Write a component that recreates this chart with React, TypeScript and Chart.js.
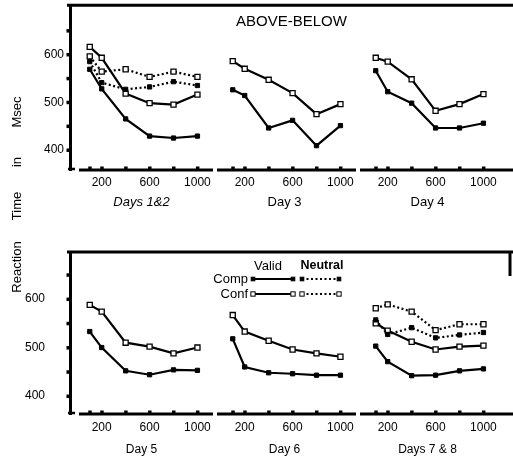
import React, { useEffect, useRef } from 'react';
import { Chart, registerables } from 'chart.js';

Chart.register(...registerables);

// ---------- data ----------
const delays = [100, 200, 400, 600, 800, 1000]; // ms
const xTickLabels = [200, 600, 1000];
const yTickValues = [400, 450, 500, 550, 600, 650];

// Top panel (ABOVE-BELOW)
const day12ValidComp = [569, 528, 465, 429, 425, 429];
const day12ValidConf = [616, 593, 518, 498, 495, 516];
const day12NeutralComp = [585, 541, 527, 532, 543, 535];
const day12NeutralConf = [596, 564, 569, 553, 564, 553];
const day3ValidComp = [526, 514, 446, 462, 409, 451];
const day3ValidConf = [586, 570, 547, 519, 475, 496];
const day4ValidComp = [566, 522, 498, 446, 446, 456];
const day4ValidConf = [593, 585, 548, 482, 496, 517];

// Bottom panel
const day5ValidComp = [533, 500, 452, 444, 454, 453];
const day5ValidConf = [588, 574, 510, 502, 488, 500];
const day6ValidComp = [518, 460, 448, 446, 443, 443];
const day6ValidConf = [567, 533, 514, 496, 488, 481];
const day78ValidComp = [503, 471, 442, 443, 452, 456];
const day78ValidConf = [550, 535, 512, 496, 502, 504];
const day78NeutralComp = [557, 527, 541, 520, 526, 531];
const day78NeutralConf = [581, 589, 574, 536, 548, 548];

const topTitles = ['Days 1&2', 'Day 3', 'Day 4'];
const bottomTitles = ['Day 5', 'Day 6', 'Days 7 & 8'];
const panelHeading = 'ABOVE-BELOW';
const legendCols = ['Valid', 'Neutral'];
const legendRows = ['Comp', 'Conf'];
const axisWords = ['Msec', 'in', 'Time', 'Reaction'];

// ---------- layout / style ----------
const FONT = '"Liberation Sans", Arial, Helvetica, sans-serif';
const axisWordCenters = [112, 162, 206, 267];

type Kind = { filled: boolean; dotted: boolean };
const VC: Kind = { filled: true, dotted: false };
const VF: Kind = { filled: false, dotted: false };
const NC: Kind = { filled: true, dotted: true };
const NF: Kind = { filled: false, dotted: true };

function makeDs(vals: number[], axis: string, k: Kind) {
  return {
    data: delays.map((d, i) => ({ x: d, y: vals[i] })),
    xAxisID: axis,
    yAxisID: 'y',
    borderColor: '#000',
    borderWidth: 2.2,
    borderDash: k.dotted ? [2, 2.5] : [],
    pointStyle: 'rect',
    pointRadius: k.filled ? 3 : 3.6,
    pointBackgroundColor: k.filled ? '#000' : '#fff',
    pointBorderColor: '#000',
    pointBorderWidth: k.filled ? 1 : 1.3,
    tension: 0,
    fill: false,
  };
}

function xScale(title: string, italic: boolean, size: number, height: number, tickPad: number, titlePad: number) {
  return {
    type: 'linear',
    position: 'bottom',
    stack: 'days',
    stackWeight: 1,
    min: -65,
    max: 1130,
    afterBuildTicks: (s: any) => {
      s.ticks = delays.map((v) => ({ value: v }));
    },
    afterFit: (s: any) => {
      s.height = height;
      s.paddingLeft = 0;
      s.paddingRight = 0;
    },
    grid: { display: false, drawTicks: false },
    border: { display: false },
    ticks: {
      color: '#000',
      font: { family: FONT, size: 12 },
      padding: tickPad,
      maxRotation: 0,
      autoSkip: false,
      callback: (v: any) => (xTickLabels.includes(v) ? String(v) : null),
    },
    title: {
      display: true,
      text: title,
      color: '#000',
      font: { family: FONT, size, style: italic ? 'italic' : 'normal' },
      padding: { top: 0, bottom: titlePad },
    },
  };
}

function yScale(min: number, max: number, pad: number) {
  return {
    type: 'linear',
    position: 'left',
    min,
    max,
    afterBuildTicks: (s: any) => {
      s.ticks = yTickValues.map((v) => ({ value: v }));
    },
    afterFit: (s: any) => {
      s.width = 70;
      s.paddingTop = 0;
      s.paddingBottom = 0;
    },
    grid: { display: false, drawTicks: false },
    border: { display: true, width: 3, color: '#000' },
    ticks: {
      color: '#000',
      font: { family: FONT, size: 12 },
      padding: pad,
      callback: (v: any) => (v % 100 === 0 ? String(v) : null),
    },
  };
}

function framePlugin(opts: { rightStub?: boolean; heading?: string; legend?: boolean }) {
  return {
    id: 'frame',
    afterDraw(chart: any) {
      const ctx = chart.ctx;
      const ca = chart.chartArea;
      ctx.save();
      ctx.fillStyle = '#000';
      ctx.strokeStyle = '#000';
      // top border
      ctx.lineWidth = 3;
      ctx.beginPath();
      ctx.moveTo(ca.left - 3, ca.top);
      ctx.lineTo(chart.width, ca.top);
      ctx.stroke();
      if (opts.rightStub) {
        ctx.beginPath();
        ctx.moveTo(chart.width - 3, ca.top);
        ctx.lineTo(chart.width - 3, ca.top + 24);
        ctx.stroke();
      }
      // foot of y axis
      ctx.lineWidth = 2.5;
      ctx.beginPath();
      ctx.moveTo(ca.left - 2, ca.bottom - 1);
      ctx.lineTo(ca.left + 5, ca.bottom - 1);
      ctx.stroke();
      // broken x axis segments + tick dots
      const xs = ['x1', 'x2', 'x3'].map((id) => chart.scales[id]);
      xs.forEach((s: any, i: number) => {
        const from = s.left + (i === 0 ? 9 : 4);
        const to = i === 2 ? chart.width : s.right;
        ctx.lineWidth = 3;
        ctx.beginPath();
        ctx.moveTo(from, ca.bottom);
        ctx.lineTo(to, ca.bottom);
        ctx.stroke();
        delays.forEach((v) => {
          const px = s.getPixelForValue(v);
          ctx.fillRect(px - 1.5, ca.bottom - 3.5, 3.5, 4);
        });
      });
      const y = chart.scales.y;
      yTickValues.forEach((v) => {
        const py = y.getPixelForValue(v);
        ctx.fillRect(ca.left - 3.5, py - 1.5, 4, 3.5);
      });
      // heading
      if (opts.heading) {
        ctx.font = `15px ${FONT}`;
        ctx.textAlign = 'center';
        ctx.textBaseline = 'middle';
        const cx = chart.scales.x2.getPixelForValue(590);
        ctx.fillText(opts.heading, cx, ca.top + 17);
      }
      // legend
      if (opts.legend) {
        const dsets = chart.data.datasets;
        const find = (k: Kind) =>
          dsets.find((d: any) => d.xAxisID === 'x3' && (d.borderDash.length > 0) === k.dotted && (d.pointBackgroundColor === '#000') === k.filled);
        const headY = ca.top + 14;
        const rowY = [ca.top + 27, ca.top + 42];
        const colX = [[253, 293], [302, 339]];
        ctx.textBaseline = 'middle';
        ctx.textAlign = 'center';
        ctx.font = `13px ${FONT}`;
        ctx.fillText(legendCols[0], 268, headY);
        ctx.font = `bold 12.5px ${FONT}`;
        ctx.fillText(legendCols[1], 322, headY);
        ctx.font = `13px ${FONT}`;
        ctx.textAlign = 'right';
        legendRows.forEach((r, ri) => ctx.fillText(r, 248, rowY[ri]));
        const kinds = [[VC, NC], [VF, NF]];
        kinds.forEach((row, ri) => {
          row.forEach((k, ci) => {
            const d: any = find(k);
            if (!d) return;
            const [a, b] = colX[ci];
            const yy = rowY[ri];
            ctx.lineWidth = d.borderWidth * 0.8;
            ctx.setLineDash(d.borderDash);
            ctx.beginPath();
            ctx.moveTo(a, yy);
            ctx.lineTo(b, yy);
            ctx.stroke();
            ctx.setLineDash([]);
            const side = d.pointRadius * 1.2;
            [a, b].forEach((px) => {
              ctx.fillStyle = d.pointBackgroundColor;
              ctx.fillRect(px - side / 2, yy - side / 2, side, side);
              ctx.lineWidth = 1;
              ctx.strokeStyle = '#000';
              ctx.strokeRect(px - side / 2, yy - side / 2, side, side);
            });
            ctx.fillStyle = '#000';
          });
        });
      }
      ctx.restore();
    },
  };
}

function buildConfig(panel: 'top' | 'bottom') {
  const isTop = panel === 'top';
  const datasets = isTop
    ? [
        makeDs(day12ValidComp, 'x1', VC),
        makeDs(day12NeutralComp, 'x1', NC),
        makeDs(day12NeutralConf, 'x1', NF),
        makeDs(day12ValidConf, 'x1', VF),
        makeDs(day3ValidComp, 'x2', VC),
        makeDs(day3ValidConf, 'x2', VF),
        makeDs(day4ValidComp, 'x3', VC),
        makeDs(day4ValidConf, 'x3', VF),
      ]
    : [
        makeDs(day5ValidComp, 'x1', VC),
        makeDs(day5ValidConf, 'x1', VF),
        makeDs(day6ValidComp, 'x2', VC),
        makeDs(day6ValidConf, 'x2', VF),
        makeDs(day78ValidComp, 'x3', VC),
        makeDs(day78NeutralComp, 'x3', NC),
        makeDs(day78NeutralConf, 'x3', NF),
        makeDs(day78ValidConf, 'x3', VF),
      ];
  const titles = isTop ? topTitles : bottomTitles;
  const xh = isTop ? 45 : 49;
  const tickPad = isTop ? 5 : 6;
  const titlePad = isTop ? 5 : 6;
  const size = isTop ? 13 : 12;
  return {
    type: 'line',
    data: { datasets },
    plugins: [framePlugin(isTop ? { heading: panelHeading } : { legend: true, rightStub: true })],
    options: {
      responsive: false,
      maintainAspectRatio: false,
      animation: false,
      devicePixelRatio: 1,
      layout: { padding: { top: isTop ? 5 : 22, right: 14, left: 0, bottom: 0 } },
      plugins: { legend: { display: false }, tooltip: { enabled: false }, title: { display: false } },
      scales: {
        x1: xScale(titles[0], isTop, size, xh, tickPad, titlePad),
        x2: xScale(titles[1], false, size, xh, tickPad, titlePad),
        x3: xScale(titles[2], false, size, xh, tickPad, titlePad),
        y: isTop ? yScale(358, 703, 6) : yScale(363, 697, 25),
      },
    },
  };
}

export default function App() {
  const topRef = useRef<HTMLCanvasElement>(null);
  const botRef = useRef<HTMLCanvasElement>(null);
  useEffect(() => {
    const c1 = new Chart(topRef.current as HTMLCanvasElement, buildConfig('top') as any);
    const c2 = new Chart(botRef.current as HTMLCanvasElement, buildConfig('bottom') as any);
    return () => {
      c1.destroy();
      c2.destroy();
    };
  }, []);
  return (
    <div style={{ position: 'fixed', left: 0, top: 0, width: 513, height: 463, background: '#fff', overflow: 'hidden' }}>
      <canvas ref={topRef} width={513} height={215} style={{ position: 'absolute', left: 0, top: 0, width: 513, height: 215 }} />
      <canvas ref={botRef} width={513} height={233} style={{ position: 'absolute', left: 0, top: 230, width: 513, height: 233 }} />
      {axisWords.map((w, i) => (
        <div
          key={w}
          style={{
            position: 'absolute',
            left: 16,
            top: axisWordCenters[i],
            transform: 'translate(-50%, -50%) rotate(-90deg)',
            font: `13px ${FONT}`,
            whiteSpace: 'nowrap',
            color: '#000',
          }}
        >
          {w}
        </div>
      ))}
    </div>
  );
}
